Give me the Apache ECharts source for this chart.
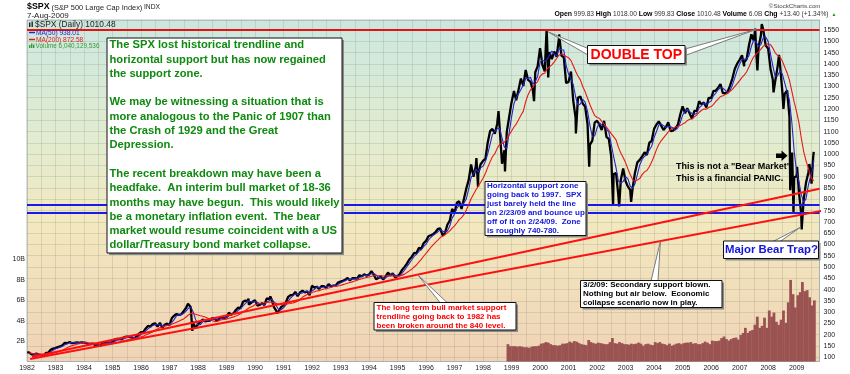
<!DOCTYPE html>
<html>
<head>
<meta charset="utf-8">
<script src="https://cdn.jsdelivr.net/npm/echarts@6.0.0/dist/echarts.min.js"></script>
<style>
html,body{margin:0;padding:0;background:#ffffff;}
#chart{width:850px;height:374px;}
</style>
</head>
<body>
<div id="chart"></div>
<script>
// ================= DATA =================
const firstYear = 1982;
// S&P 500 month-end closes, Jan 1982 ... Jul 2009
const monthlyClose = [
 120.40,113.11,111.96,116.44,111.88,109.61,107.09,119.51,120.42,133.71,138.54,140.64, // 1982
 145.30,148.06,152.96,164.42,162.39,168.11,162.56,164.40,166.07,163.55,166.40,164.93, // 1983
 163.41,157.06,159.18,160.05,150.55,153.18,150.66,166.68,166.10,166.09,163.58,167.24, // 1984
 179.63,181.18,180.66,179.83,189.55,191.85,190.92,188.63,182.08,189.82,202.17,211.28, // 1985
 211.78,226.92,238.90,235.52,247.35,250.84,236.12,252.93,231.32,243.98,249.22,242.17, // 1986
 274.08,284.20,291.70,288.36,290.10,304.00,318.66,329.80,321.83,251.79,230.30,247.08, // 1987
 257.07,267.82,258.89,261.33,262.16,273.50,272.02,261.52,271.91,278.97,273.70,277.72, // 1988
 297.47,288.86,294.87,309.64,320.52,317.98,346.08,351.45,349.15,340.36,345.99,353.40, // 1989
 329.08,331.89,339.94,330.80,361.23,358.02,356.15,322.56,306.05,304.00,322.22,330.22, // 1990
 343.93,367.07,375.22,375.35,389.83,371.16,387.81,395.43,387.86,392.46,375.22,417.09, // 1991
 408.79,412.70,403.69,414.95,415.35,408.14,424.21,414.03,417.80,418.68,431.35,435.71, // 1992
 438.78,443.38,451.67,440.19,450.19,450.53,448.13,463.56,458.93,467.83,461.79,466.45, // 1993
 481.61,467.14,445.77,450.91,456.50,444.27,458.26,475.49,462.69,472.35,453.69,459.27, // 1994
 470.42,487.39,500.71,514.71,533.40,544.75,562.06,561.88,584.41,581.50,605.37,615.93, // 1995
 636.02,640.43,645.50,654.17,669.12,670.63,639.95,651.99,687.33,705.27,757.02,740.74, // 1996
 786.16,790.82,757.12,801.34,848.28,885.14,954.31,899.47,947.28,914.62,955.40,970.43, // 1997
 980.28,1049.34,1101.75,1111.75,1090.82,1133.84,1120.67,957.28,1017.01,1098.67,1163.63,1229.23, // 1998
 1279.64,1238.33,1286.37,1335.18,1301.84,1372.71,1328.72,1320.41,1282.71,1362.93,1388.91,1469.25, // 1999
 1394.46,1366.42,1498.58,1452.43,1420.60,1454.60,1430.83,1517.68,1436.51,1429.40,1314.95,1320.28, // 2000
 1366.01,1239.94,1160.33,1249.46,1255.82,1224.42,1211.23,1133.58,1040.94,1059.78,1139.45,1148.08, // 2001
 1130.20,1106.73,1147.39,1076.92,1067.14,989.82,911.62,916.07,815.28,885.76,936.31,879.82, // 2002
 855.70,841.15,848.18,916.92,963.59,974.50,990.31,1008.01,995.97,1050.71,1058.20,1111.92, // 2003
 1131.13,1144.94,1126.21,1107.30,1120.68,1140.84,1101.72,1104.24,1114.58,1130.20,1173.82,1211.92, // 2004
 1181.27,1203.60,1180.59,1156.85,1191.50,1191.33,1234.18,1220.33,1228.81,1207.01,1249.48,1248.29, // 2005
 1280.08,1280.66,1294.83,1310.61,1270.09,1270.20,1276.66,1303.82,1335.85,1377.94,1400.63,1418.30, // 2006
 1438.24,1406.82,1420.86,1482.37,1530.62,1503.35,1455.27,1473.99,1526.75,1549.38,1481.14,1468.36, // 2007
 1378.55,1330.63,1322.70,1385.59,1400.38,1280.00,1267.38,1282.83,1166.36,968.75,896.24,903.25, // 2008
 825.88,735.09,797.87,872.81,919.14,919.32,987.48 // 2009 Jan-Jul
];
const lastClose = ['2009-08-07', 1010.48];
// notable daily highs / lows visible as bar extremes
const barExtremes = [
 ['1982-01-04',122.7],['1982-08-12',101.4],['1983-10-10',172.7],['1984-07-24',147.8],
 ['1987-08-25',337.9],['1987-10-20',216.5],['1987-10-21',258.4],['1987-12-04',223.9],
 ['1989-10-09',359.8],['1989-10-13',333.6],['1990-07-16',369.7],['1990-10-11',294.5],
 ['1994-02-02',482.9],['1997-10-07',983.1],['1997-10-28',855.3],['1998-07-17',1190.6],
 ['1998-10-08',923.3],['1999-10-15',1235.0],['2000-03-24',1552.9],['2000-04-14',1339.4],
 ['2000-09-01',1530.1],['2001-04-04',1091.9],['2001-09-21',944.8],['2002-07-24',775.7],
 ['2002-10-10',768.6],['2003-03-12',788.9],['2007-02-27',1389.4],['2007-07-19',1555.9],
 ['2007-08-16',1370.6],['2007-10-11',1576.1],['2008-03-10',1273.4],['2008-05-19',1440.2],
 ['2008-07-15',1200.4],['2008-10-10',839.8],['2008-11-04',1007.5],['2008-11-21',741.0],
 ['2009-01-06',943.9],['2009-03-06',666.8],['2009-06-12',956.2],['2009-07-10',869.3]
];
// volume, billions (monthly), Nov 1998 ... Aug 2009
const volumeStart = [1998, 10];
const volumeBillions = [
 1.7,1.5,
 1.5,1.5,1.45,1.5,1.45,1.4,1.4,1.35,1.45,1.5,1.5,1.55,
 1.75,1.8,1.9,1.85,1.7,1.6,1.6,1.55,1.6,1.75,1.75,1.8,
 1.95,1.85,2.0,1.95,1.8,1.7,1.65,1.6,2.1,1.9,1.8,1.75,
 1.85,1.8,1.75,1.7,1.7,1.9,2.3,1.8,1.75,1.9,1.8,1.7,
 1.7,1.65,1.75,1.7,1.75,1.85,1.75,1.55,1.7,1.75,1.65,1.6,
 1.9,1.8,1.9,1.75,1.7,1.6,1.75,1.55,1.65,1.75,1.8,1.7,
 1.8,1.85,1.85,1.9,1.75,1.8,1.7,1.7,1.8,1.95,1.85,1.7,
 2.05,2.0,2.0,2.05,2.3,2.45,2.2,2.05,2.2,2.3,2.35,2.15,
 2.6,2.8,3.3,2.8,3.0,3.1,3.6,4.4,3.3,3.5,4.3,3.3,
 5.0,4.4,4.8,3.9,3.6,4.1,5.0,3.8,5.8,8.0,6.6,5.3,
 6.5,6.8,7.8,6.9,7.0,6.3,5.5,6.0
];
const doubleTopLevel = 1553;
const supportZone = [775, 742];
const trendUpper = [[1982.18, 101.3], [2009.80, 847]];
const trendLower = [[1982.11, 92.5], [2010.89, 773]];
const xRange = [1982, 2009.8];
const priceRange = [81.4, 1594.3];
const volumeRange = [0, 33.5];
const volumeTickLabels = ['2B', '4B', '6B', '8B', '10B'];
const calloutTargets = {
  top1: [2000.29, 1541], top2: [2007.59, 1553],
  trendBreak: [1995.7, 466], secondary: [2004.22, 615], bearTrap: [2009.12, 675]
};

// ================= HELPERS =================
const FONT = '"Liberation Sans", Arial, Helvetica, sans-serif';
function yearFrac(y, t) { const a = Date.UTC(y, 0, 1), b = Date.UTC(y + 1, 0, 1); return y + (t - a) / (b - a); }
function decYear(s) { const p = s.split('-').map(Number); return yearFrac(p[0], Date.UTC(p[0], p[1] - 1, p[2])); }
function monthEnd(y, m) { return yearFrac(y, Date.UTC(y, m + 1, 0)); }
function monthMid(y, m) { return yearFrac(y, Date.UTC(y, m, 15)); }
function movingAvg(arr, n) {
  return arr.map((v, i) => { const s = arr.slice(Math.max(0, i - n + 1), i + 1); return s.reduce((a, b) => a + b, 0) / s.length; });
}

const closeX = monthlyClose.map((v, i) => monthEnd(firstYear + Math.floor(i / 12), i % 12));
closeX.push(decYear(lastClose[0]));
const closeV = monthlyClose.concat([lastClose[1]]);
const ma50 = movingAvg(closeV, 3);
const ma200 = movingAvg(closeV, 10);
const pricePts = closeX.map((x, i) => [x, closeV[i]])
  .concat(barExtremes.map(d => [decYear(d[0]), d[1]]))
  .sort((a, b) => a[0] - b[0]);
const volPts = volumeBillions.map((v, i) => {
  const k = volumeStart[1] + i; return [monthMid(volumeStart[0] + Math.floor(k / 12), k % 12), v];
});

// ================= CHART =================
const chart = echarts.init(document.getElementById('chart'), null, { renderer: 'canvas' });
const gridCol = 'rgba(95,105,85,0.16)';
const option = {
  animation: false,
  backgroundColor: '#ffffff',
  grid: {
    left: 27, right: 30.5, top: 20, bottom: 12.5, show: true,
    borderColor: '#b4c0c0', borderWidth: 1,
    backgroundColor: new echarts.graphic.LinearGradient(0, 0, 0, 1, [
      { offset: 0, color: '#cce7df' }, { offset: 0.35, color: '#e2ecd0' },
      { offset: 0.6, color: '#f2e8bf' }, { offset: 1, color: '#f0d3b6' }
    ])
  },
  xAxis: {
    type: 'value', min: xRange[0], max: xRange[1], interval: 0.5,
    axisLine: { show: false }, axisTick: { show: false },
    splitLine: { show: true, lineStyle: { color: gridCol, width: 1 } },
    axisLabel: { fontFamily: FONT, fontSize: 7, color: '#222', margin: 3,
      formatter: v => (Number.isInteger(v) ? String(v) : '') }
  },
  yAxis: [
    { type: 'value', position: 'right', min: priceRange[0], max: priceRange[1], splitNumber: 30,
      axisLine: { show: false }, axisTick: { show: false },
      splitLine: { show: true, lineStyle: { color: gridCol, width: 1 } },
      axisLabel: { fontFamily: FONT, fontSize: 7, color: '#222', margin: 4,
        formatter: v => (Math.abs(v % 50) < 1e-6 ? String(v) : '') } },
    { type: 'value', position: 'left', min: volumeRange[0], max: volumeRange[1], interval: 2,
      axisLine: { show: false }, axisTick: { show: false }, splitLine: { show: false },
      axisLabel: { fontFamily: FONT, fontSize: 7, color: '#222', margin: 2,
        formatter: v => (volumeTickLabels.indexOf(v + 'B') >= 0 ? v + 'B' : '') } }
  ],
  series: [
    { type: 'bar', name: 'Volume', xAxisIndex: 0, yAxisIndex: 1, data: volPts, barWidth: 2.8,
      itemStyle: { color: '#9b5352' }, z: 1, silent: true },
    { type: 'line', name: 'SPX', data: pricePts, symbol: 'none', z: 3, silent: true,
      lineStyle: { color: '#000000', width: 2.3 },
      markLine: { silent: true, symbol: 'none', label: { show: false },
        data: [
          { yAxis: doubleTopLevel, lineStyle: { color: '#e81010', width: 2, type: 'solid' } },
          { yAxis: supportZone[0], lineStyle: { color: '#1a1ae6', width: 2.2, type: 'solid' } },
          { yAxis: supportZone[1], lineStyle: { color: '#1a1ae6', width: 2.2, type: 'solid' } }
        ] } },
    { type: 'line', name: 'MA(50)', data: closeX.map((x, i) => [x, ma50[i]]), symbol: 'none', z: 4, silent: true,
      lineStyle: { color: '#2424c8', width: 1.1 } },
    { type: 'line', name: 'MA(200)', data: closeX.map((x, i) => [x, ma200[i]]), symbol: 'none', z: 5, silent: true,
      lineStyle: { color: '#e81818', width: 1.1 } },
    { type: 'line', name: 'trendUpper', data: trendUpper, symbol: 'none', clip: false, z: 6, silent: true,
      lineStyle: { color: '#ff1010', width: 2 } },
    { type: 'line', name: 'trendLower', data: trendLower, symbol: 'none', clip: false, z: 6, silent: true,
      lineStyle: { color: '#ff1010', width: 2 } }
  ]
};
chart.setOption(option);

// ================= ANNOTATIONS =================
const P = d => chart.convertToPixel({ xAxisIndex: 0, yAxisIndex: 0 }, d);
const G = [];
function txt(x, y, text, o) {
  G.push({ type: 'text', x: x, y: y, z: 100, silent: true,
    style: Object.assign({ text: text, fontFamily: FONT, fontSize: 8, fill: '#000',
      align: 'left', verticalAlign: 'middle' }, o || {}) });
}
function box(x, y, w, h) {
  G.push({ type: 'rect', z: 90, silent: true, shape: { x: x + 2, y: y + 2, width: w, height: h }, style: { fill: '#8a8a8a' } });
  G.push({ type: 'rect', z: 91, silent: true, shape: { x: x, y: y, width: w, height: h }, style: { fill: '#ffffff', stroke: '#111', lineWidth: 1 } });
}
function wedge(a, b, target) {
  const t = P(target);
  G.push({ type: 'polygon', z: 89, silent: true, shape: { points: [a, b, t] }, style: { fill: '#ffffff', stroke: '#7a7a7a', lineWidth: 1 } });
}

// header
txt(27, 7, '$SPX', { fontWeight: 'bold', fontSize: 8.8 });
txt(51.5, 7.5, '(S&P 500 Large Cap Index)', { fontSize: 7.4, fill: '#222' });
txt(144, 7.5, 'INDX', { fontSize: 6.7, fill: '#222' });
txt(27, 16, '7-Aug-2009', { fontSize: 8, fill: '#222' });
txt(820.5, 5.8, '\u00A9StockCharts.com', { fontSize: 6.2, fill: '#444', align: 'right' });
G.push({ type: 'text', x: 828.5, y: 14.5, z: 100, silent: true, style: {
  text: '{b|Open} 999.83 {b|High} 1018.00 {b|Low} 999.83 {b|Close} 1010.48 {b|Volume} 6.0B {b|Chg} +13.40 (+1.34%)',
  fontFamily: FONT, fontSize: 6.6, fill: '#333', align: 'right', verticalAlign: 'middle',
  rich: { b: { fontFamily: FONT, fontSize: 6.9, fontWeight: 'bold', fill: '#000' } } } });
txt(834, 14.3, '\u25B2', { fontSize: 5, fill: '#2a9a2a', align: 'center' });

// plot header and legend
G.push({ type: 'rect', z: 100, silent: true, shape: { x: 29, y: 22.5, width: 1.4, height: 4.5 }, style: { fill: '#222' } });
G.push({ type: 'rect', z: 100, silent: true, shape: { x: 31.5, y: 21.5, width: 1.4, height: 5.5 }, style: { fill: '#222' } });
txt(35, 24.6, '$SPX (Daily) 1010.48', { fontSize: 8.4, fill: '#222' });
G.push({ type: 'line', z: 100, silent: true, shape: { x1: 29, y1: 32.5, x2: 35, y2: 32.5 }, style: { stroke: '#2424c8', lineWidth: 1.5 } });
txt(36, 32.7, 'MA(50) 938.01', { fontSize: 6.6, fill: '#2424c8' });
G.push({ type: 'line', z: 100, silent: true, shape: { x1: 29, y1: 39.5, x2: 35, y2: 39.5 }, style: { stroke: '#e81818', lineWidth: 1.5 } });
txt(36, 39.7, 'MA(200) 872.58', { fontSize: 6.6, fill: '#e81818' });
[[29, 45, 3], [31, 43.5, 4.5], [33, 44.5, 3.5]].forEach(r => G.push({ type: 'rect', z: 100, silent: true,
  shape: { x: r[0], y: r[1], width: 1.4, height: r[2] }, style: { fill: '#3a9a3a' } }));
txt(35.5, 46.5, 'Volume 6,040,129,536', { fontSize: 6.4, fill: '#3a9a3a' });

// big green note
box(107, 38, 235, 215);
G.push({ type: 'text', x: 109.5, y: 38, z: 100, silent: true, style: {
  text: ['The SPX lost historical trendline and', 'horizontal support but has now regained', 'the support zone.', '',
    'We may be witnessing a situation that is', 'more analogous to the Panic of 1907 than', 'the Crash of 1929 and the Great', 'Depression.', '',
    'The recent breakdown may have been a', 'headfake.  An interim bull market of 18-36', 'months may have begun.  This would likely',
    'be a monetary inflation event.  The bear', 'market would resume coincident with a US', 'dollar/Treasury bond market collapse.'].join('\n'),
  fontFamily: FONT, fontSize: 11.2, fontWeight: 'bold', fill: '#0e8a0e', lineHeight: 14.3, align: 'left', verticalAlign: 'top' } });

// DOUBLE TOP
wedge([588, 48.5], [588, 55], calloutTargets.top1);
wedge([685, 49], [685, 55.5], calloutTargets.top2);
box(587.5, 45.5, 97.5, 18);
txt(636.3, 54.8, 'DOUBLE TOP', { fontSize: 14, fontWeight: 'bold', fill: '#ff0000', align: 'center' });

// horizontal support zone note
box(485, 181.5, 101, 54);
G.push({ type: 'text', x: 487, y: 181.8, z: 100, silent: true, style: {
  text: ['Horizontal support zone', 'going back to 1997.  SPX', 'just barely held the line', 'on 2/23/09 and bounce up',
    'off of it on 2/24/09.  Zone', 'is roughly 740-780.'].join('\n'),
  fontFamily: FONT, fontSize: 8, fontWeight: 'bold', fill: '#1414dc', lineHeight: 8.95, align: 'left', verticalAlign: 'top' } });

// long term trendline note
wedge([440, 302.5], [447, 302.5], calloutTargets.trendBreak);
box(374, 302.5, 142, 27.5);
G.push({ type: 'text', x: 376.5, y: 302.8, z: 100, silent: true, style: {
  text: ['The long term bull market support', 'trendline going back to 1982 has', 'been broken around the 840 level.'].join('\n'),
  fontFamily: FONT, fontSize: 8, fontWeight: 'bold', fill: '#ff0000', lineHeight: 9, align: 'left', verticalAlign: 'top' } });

// secondary support note
wedge([651, 281], [658, 281], calloutTargets.secondary);
box(580.5, 280.5, 141.5, 27);
G.push({ type: 'text', x: 583, y: 280.3, z: 100, silent: true, style: {
  text: ['3/2/09: Secondary support blown.', 'Nothing but air below.  Economic', 'collapse scenario now in play.'].join('\n'),
  fontFamily: FONT, fontSize: 8, fontWeight: 'bold', fill: '#000', lineHeight: 9, align: 'left', verticalAlign: 'top' } });

// bear trap
wedge([773, 241.5], [780, 241.5], calloutTargets.bearTrap);
box(723.5, 241, 95, 17.5);
txt(771.5, 250, 'Major Bear Trap?', { fontSize: 11.4, fontWeight: 'bold', fill: '#1414dc', align: 'center' });

// PANIC text + arrow
G.push({ type: 'text', x: 676, y: 160, z: 100, silent: true, style: {
  text: 'This is not a "Bear Market".\nThis is a financial PANIC.',
  fontFamily: FONT, fontSize: 9, fontWeight: 'bold', fill: '#000', lineHeight: 12.2, align: 'left', verticalAlign: 'top' } });
G.push({ type: 'polygon', z: 100, silent: true, shape: { points: [[776, 153.6], [781.5, 153.6], [781.5, 150.6], [787.5, 155.8], [781.5, 161], [781.5, 158], [776, 158]] }, style: { fill: '#000' } });

chart.setOption({ graphic: G });
</script>
</body>
</html>
